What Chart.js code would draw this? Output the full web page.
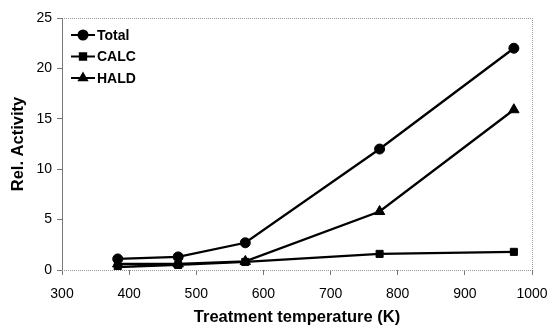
<!DOCTYPE html>
<html>
<head>
<meta charset="utf-8">
<script src="https://cdn.jsdelivr.net/npm/chart.js@4"></script>
<style>
  html, body { margin: 0; padding: 0; background: #fff; }
  #wrap { width: 550px; height: 327px; }
</style>
</head>
<body>
<div id="wrap"><canvas id="myChart" width="550" height="327"></canvas></div>
<script>
// treatment temperatures (K)
const temps = [383, 473, 573, 773, 973];
const seriesNames = ['Total', 'CALC', 'HALD'];
const totalVals = [1.1, 1.3, 2.7, 12.0, 22.0];
const calcVals = [0.3, 0.5, 0.8, 1.6, 1.8];
const haldVals = [0.6, 0.6, 0.85, 5.8, 15.9];
const markers = ['circle', 'rect', 'triangle'];

const toPoints = vals => temps.map((t, i) => ({ x: t, y: vals[i] }));
const FONT = '"Liberation Sans", Arial, sans-serif';

// legend drawn inside the plot, top-left
const innerLegend = {
    id: 'innerLegend',
    afterDatasetsDraw(chart) {
        const ctx = chart.ctx;
        const area = chart.chartArea;
        ctx.save();
        chart.data.datasets.forEach((ds, i) => {
            const x0 = area.left + 9;
            const y = area.top + 17 + i * 21.5;
            ctx.strokeStyle = '#000';
            ctx.lineWidth = 2;
            ctx.beginPath();
            ctx.moveTo(x0, y);
            ctx.lineTo(x0 + 24, y);
            ctx.stroke();
            Chart.helpers.drawPoint(ctx, { pointStyle: ds.pointStyle, radius: 4.5, borderWidth: 1 }, x0 + 12, y);
            ctx.fillStyle = '#000';
            ctx.font = 'bold 14px ' + FONT;
            ctx.textBaseline = 'middle';
            ctx.fillText(ds.label, x0 + 26, y + 1);
        });
        ctx.restore();
    }
};

// dotted frame on top and right, dotted x axis line
const frame = {
    id: 'frame',
    beforeDatasetsDraw(chart) {
        const ctx = chart.ctx;
        const a = chart.chartArea;
        ctx.save();
        ctx.strokeStyle = '#999';
        ctx.lineWidth = 1;
        ctx.setLineDash([1, 1]);
        ctx.beginPath();
        ctx.moveTo(a.left, a.top + 0.5);
        ctx.lineTo(a.right + 0.5, a.top + 0.5);
        ctx.lineTo(a.right + 0.5, a.bottom);
        ctx.moveTo(a.left, a.bottom + 0.5);
        ctx.lineTo(a.right, a.bottom + 0.5);
        ctx.stroke();
        ctx.setLineDash([]);
        ctx.strokeStyle = '#777';
        ctx.beginPath();
        ctx.moveTo(a.left + 0.5, a.top);
        ctx.lineTo(a.left + 0.5, a.bottom);
        ctx.stroke();
        ctx.restore();
    }
};

const makeSet = (label, vals, style) => ({
    label: label,
    data: toPoints(vals),
    showLine: true,
    borderColor: '#000',
    backgroundColor: '#000',
    borderWidth: 2.3,
    pointStyle: style,
    pointRadius: style === 'triangle' ? 6 : 5,
    pointBorderWidth: 1,
    tension: 0
});

new Chart(document.getElementById('myChart').getContext('2d'), {
    type: 'scatter',
    data: {
        datasets: [
            makeSet(seriesNames[0], totalVals, markers[0]),
            makeSet(seriesNames[1], calcVals, markers[1]),
            makeSet(seriesNames[2], haldVals, markers[2])
        ]
    },
    options: {
        responsive: false,
        animation: false,
        layout: { padding: { top: 18, right: 18, left: 0, bottom: 0 } },
        plugins: {
            legend: { display: false },
            tooltip: { enabled: false }
        },
        scales: {
            x: {
                type: 'linear',
                min: 300,
                max: 1000,
                ticks: {
                    stepSize: 100,
                    maxRotation: 0,
                    color: '#000',
                    padding: 11,
                    font: { family: FONT, size: 14 },
                    callback: v => String(v)
                },
                grid: { display: true, drawOnChartArea: false, drawTicks: true, tickLength: 5, tickColor: '#777' },
                border: { display: false },
                title: {
                    display: true,
                    text: 'Treatment temperature (K)',
                    color: '#000',
                    padding: { top: 0, bottom: 0 },
                    font: { family: FONT, size: 16.5, weight: 'bold' }
                },
                afterFit(scale) {
                    scale.height = 57;
                    scale.paddingLeft = 0;
                    scale.paddingRight = 0;
                }
            },
            y: {
                min: 0,
                max: 25,
                ticks: {
                    stepSize: 5,
                    color: '#000',
                    padding: 5,
                    font: { family: FONT, size: 14 }
                },
                grid: { display: true, drawOnChartArea: false, drawTicks: true, tickLength: 5, tickColor: '#777' },
                border: { display: false },
                title: {
                    display: true,
                    text: 'Rel. Activity',
                    color: '#000',
                    padding: { top: 9, bottom: 0 },
                    font: { family: FONT, size: 16.5, weight: 'bold' }
                },
                afterFit(scale) {
                    scale.width = 62;
                    scale.paddingTop = 0;
                    scale.paddingBottom = 0;
                }
            }
        }
    },
    plugins: [frame, innerLegend]
});
</script>
</body>
</html>
